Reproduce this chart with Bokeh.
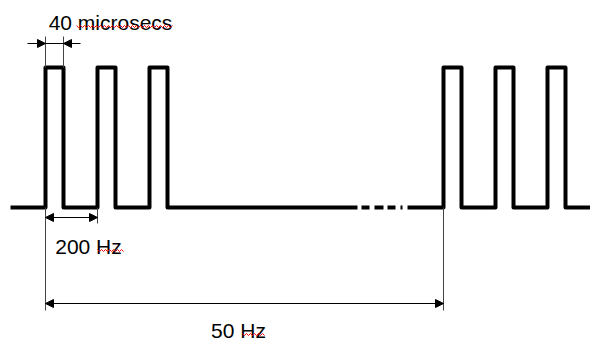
from bokeh.plotting import figure
from bokeh.models import Range1d, Arrow, NormalHead
from bokeh.core.properties import value
from bokeh.embed import file_html
from bokeh.resources import INLINE
import numpy as np

# ---- diagram data (schematic units) ----
low_level = 207
high_level = 67
pulse_width = 18
burst1_starts = [45, 97, 149]
burst2_starts = [443, 495, 547]
line_start = 10
line_end = 590
gap_start = 357
gap_end = 407
gap_dashes_x0 = [361, 374, 387, 400]
gap_dashes_x1 = [369, 383, 395, 402]

labels = ["40 microsecs", "200 Hz", "50 Hz"]
label_x = [110, 88, 238]
label_y = [22, 246, 330]

# dimension arrows
width_dim = (27, 45, 63, 80, 43)
period_dim = (45, 97, 217)
frame_dim = (45, 443, 303)

p = figure(width=590, height=341, x_range=Range1d(0, 590), y_range=Range1d(341, 0),
           output_backend="svg", toolbar_location=None, min_border=0,
           x_axis_location=None, y_axis_location=None)
p.grid.visible = False
p.outline_line_color = None
p.background_fill_color = "white"
p.border_fill_color = "white"


def burst_path(x_first, starts, x_last):
    xs, ys = [x_first], [low_level]
    for s in starts:
        xs += [s, s, s + pulse_width, s + pulse_width]
        ys += [low_level, high_level, high_level, low_level]
    xs.append(x_last)
    ys.append(low_level)
    return xs, ys


for (a, st, b) in [(line_start, burst1_starts, gap_start), (gap_end, burst2_starts, line_end)]:
    xs, ys = burst_path(a, st, b)
    p.line(xs, ys, line_width=4, line_color="black", line_join="round", line_cap="butt")

p.segment(x0=gap_dashes_x0, y0=[low_level] * 4, x1=gap_dashes_x1, y1=[low_level] * 4,
          line_width=4, line_color="black", line_cap="butt")

# extension lines
ext_col = "#444444"
p.segment(x0=[45, 63], y0=[36, 36], x1=[45, 63], y1=[high_level, high_level],
          line_color=ext_col, line_width=1)
p.segment(x0=[45, 97, 443], y0=[low_level] * 3, x1=[45, 97, 443], y1=[310, 223, 310],
          line_color=ext_col, line_width=1)

# 40 microsecs dimension
wx0, wa, wb, wx1, wy = width_dim
p.segment(x0=[wx0], y0=[wy], x1=[wx1], y1=[wy], line_color="black", line_width=1)
p.add_layout(Arrow(x_start=wx0, y_start=wy, x_end=wa, y_end=wy, line_alpha=0,
                   end=NormalHead(size=8, fill_color="black", line_color="black")))
p.add_layout(Arrow(x_start=wx1, y_start=wy, x_end=wb, y_end=wy, line_alpha=0,
                   end=NormalHead(size=8, fill_color="black", line_color="black")))

for (x0, x1, y) in [period_dim, frame_dim]:
    p.add_layout(Arrow(x_start=x0, y_start=y, x_end=x1, y_end=y, line_color="black", line_width=1,
                       start=NormalHead(size=8, fill_color="black", line_color="black"),
                       end=NormalHead(size=8, fill_color="black", line_color="black")))

p.text(x=label_x, y=label_y, text=labels, text_font=value("Liberation Sans"),
       text_font_size="21px", text_align="center", text_baseline="alphabetic",
       text_color="black")

# spell-check squiggles under words
for (sx0, sx1, sy) in [(76, 173, 26), (97, 123, 250), (242, 265, 334)]:
    zx = np.arange(sx0, sx1 + 1, 2.0)
    zy = sy + np.where(np.arange(len(zx)) % 2 == 0, -1.0, 1.0)
    p.line(zx, zy, line_color="red", line_width=1)

open("out.html", "w").write(file_html(p, INLINE))
